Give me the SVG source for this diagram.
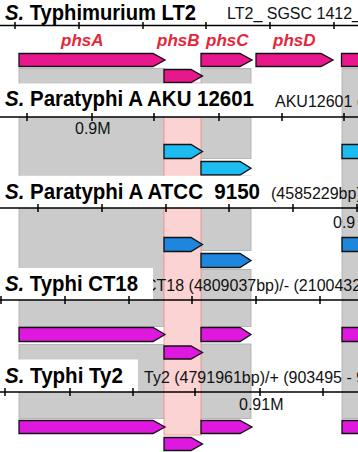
<svg xmlns="http://www.w3.org/2000/svg" width="358" height="452" viewBox="0 0 358 452">
<style>
.t{font-family:"Liberation Sans",Arial,sans-serif;font-weight:bold;font-size:22.5px;fill:#000}
.d{font-family:"Liberation Sans",Arial,sans-serif;font-size:16px;fill:#111}
.g{font-family:"Liberation Sans",Arial,sans-serif;font-weight:bold;font-style:italic;font-size:17px;fill:#e4283c}
.ax{stroke:#000;stroke-width:1.5;fill:none}
.box{fill:#fff}
.cmp{fill:#cbcbcb;stroke:#ababab;stroke-width:0.8}
.pink{fill:#fcd3d3;stroke:#f09a9a;stroke-width:1}
.a{stroke:#111;stroke-width:1.3;stroke-linejoin:miter}
.lt2{fill:#e8178c}
.aku{fill:#1cbcf0}
.atc{fill:#1f86de}
.ty{fill:#df18df}
</style>
<g id="connectors">
<rect class="cmp" x="19" y="68.5" width="145" height="258"/>
<rect class="cmp" x="19" y="344.5" width="145" height="74"/>
<rect class="cmp" x="201" y="68.5" width="50" height="90"/>
<rect class="cmp" x="201" y="176" width="50" height="74.5"/>
<rect class="cmp" x="201" y="269.5" width="50" height="57"/>
<rect class="cmp" x="201" y="344" width="50" height="74.5"/>
<rect class="cmp" x="342" y="68.5" width="20" height="350"/>
<rect class="pink" x="164" y="83" width="37" height="352"/>
</g>
<g id="genome-lt2">
<text class="t" x="5" y="20" textLength="191" lengthAdjust="spacingAndGlyphs"><tspan font-style="italic">S.</tspan> Typhimurium LT2</text>
<text class="d" x="227" y="19" font-size="14">LT2_ SGSC 1412_</text>
<line class="ax" x1="0" y1="25.5" x2="358" y2="25.5"/>
<path class="ax" d="M15 22V29M79 22V29M143 22V29M206 22V29M270 22V29M334 22V29"/>
<text class="g" x="61" y="46">phsA</text>
<text class="g" x="157" y="46">phsB</text>
<text class="g" x="206" y="46">phsC</text>
<text class="g" x="273" y="46">phsD</text>
<polygon class="a lt2" points="19,53.5 153,53.5 165,60 153,66.5 19,66.5"/>
<polygon class="a lt2" points="201,53.5 240,53.5 252,60 240,66.5 201,66.5"/>
<polygon class="a lt2" points="256,53.5 321,53.5 333,60 321,66.5 256,66.5"/>
<polygon class="a lt2" points="341.5,53.5 362,53.5 362,66.5 341.5,66.5"/>
<polygon class="a lt2" points="164,69.5 191,69.5 202.5,76 191,82.5 164,82.5"/>
</g>
<g id="genome-aku12601">
<rect class="box" x="0" y="83.5" width="262" height="33.5"/>
<text class="t" x="5" y="105.5" textLength="249" lengthAdjust="spacingAndGlyphs"><tspan font-style="italic">S.</tspan> Paratyphi A AKU 12601</text>
<text class="d" x="275" y="106.5" font-size="15">AKU12601 (</text>
<line class="ax" x1="0" y1="117" x2="358" y2="117"/>
<path class="ax" d="M27 113V121M92 113V121M154 113V121M219 113V121M282 113V121M344 113V121"/>
<text class="d" x="75" y="134" font-size="15">0.9M</text>
<polygon class="a aku" points="164,144.5 191,144.5 202.5,151.5 191,158.5 164,158.5"/>
<polygon class="a aku" points="201,161.5 240,161.5 251,168.25 240,175 201,175"/>
<polygon class="a aku" points="342,144.5 362,144.5 362,158.5 342,158.5"/>
</g>
<g id="genome-atcc9150">
<rect class="box" x="0" y="175.8" width="262" height="32.2"/>
<text class="t" x="5" y="199" textLength="255" lengthAdjust="spacingAndGlyphs" xml:space="preserve"><tspan font-style="italic">S.</tspan> Paratyphi A ATCC  9150</text>
<text class="d" x="271" y="198.5" font-size="14.8">(4585229bp)</text>
<line class="ax" x1="0" y1="208" x2="358" y2="208"/>
<path class="ax" d="M38 204V212M102 204V212M166 204V212M229 204V212M293 204V212M357 204V212"/>
<text class="d" x="333" y="227.5">0.9</text>
<polygon class="a atc" points="164,237.5 191,237.5 202.5,244.5 191,251.5 164,251.5"/>
<polygon class="a atc" points="201,253.5 240,253.5 251,260.5 240,267.5 201,267.5"/>
<polygon class="a atc" points="342,237.5 362,237.5 362,251.5 342,251.5"/>
</g>
<g id="genome-ct18">
<text class="d" x="145" y="290.5">CT18 (4809037bp)/- (2100432</text>
<rect class="box" x="0" y="268" width="153" height="32"/>
<text class="t" x="5" y="291" textLength="133" lengthAdjust="spacingAndGlyphs"><tspan font-style="italic">S.</tspan> Typhi CT18</text>
<line class="ax" x1="0" y1="300" x2="358" y2="300"/>
<path class="ax" d="M1 296V304M65 296V304M129 296V304M192 296V304M256 296V304M320 296V304"/>
<polygon class="a ty" points="19,327.5 153,327.5 165,334.5 153,341.5 19,341.5"/>
<polygon class="a ty" points="201,327.5 240,327.5 251,334.5 240,341.5 201,341.5"/>
<polygon class="a ty" points="342,327.5 362,327.5 362,341.5 342,341.5"/>
<polygon class="a ty" points="164,346 191,346 202.5,352.5 191,359 164,359"/>
</g>
<g id="genome-ty2">
<text class="d" x="144" y="382.5">Ty2 (4791961bp)/+ (903495 - 9</text>
<rect class="box" x="0" y="359.5" width="138" height="32.5"/>
<text class="t" x="5" y="383" textLength="118" lengthAdjust="spacingAndGlyphs"><tspan font-style="italic">S.</tspan> Typhi Ty2</text>
<line class="ax" x1="0" y1="392" x2="358" y2="392"/>
<path class="ax" d="M5 388V396M70 388V396M133 388V396M195 388V396M260 388V396M323 388V396"/>
<text class="d" x="239" y="409.5" font-size="15.5">0.91M</text>
<polygon class="a ty" points="19,420.5 153,420.5 165,427 153,433.5 19,433.5"/>
<polygon class="a ty" points="201,420.5 240,420.5 252,427 240,433.5 201,433.5"/>
<polygon class="a ty" points="342,420.5 362,420.5 362,433.5 342,433.5"/>
<polygon class="a ty" points="164,437.5 191,437.5 202.5,444 191,450.5 164,450.5"/>
</g>
</svg>
